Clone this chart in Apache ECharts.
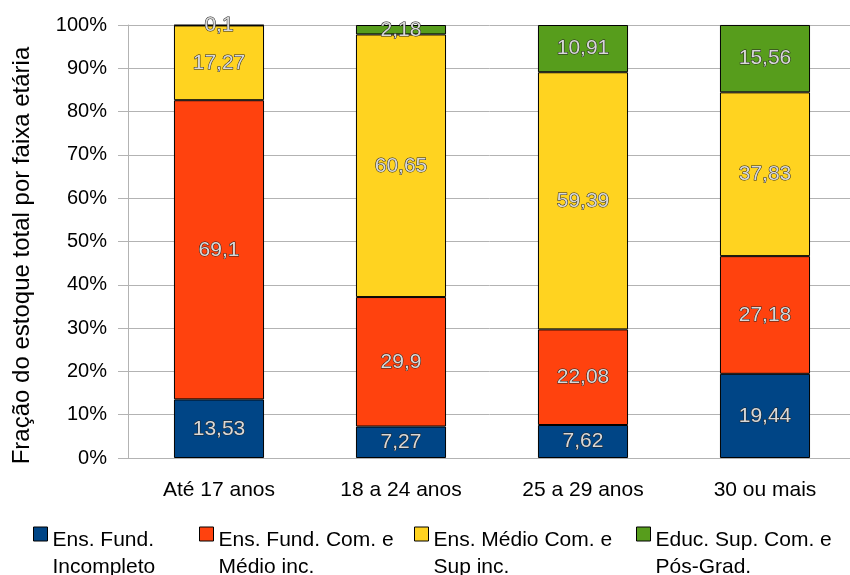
<!DOCTYPE html>
<html>
<head>
<meta charset="utf-8">
<script src="https://cdn.jsdelivr.net/npm/echarts@6/dist/echarts.min.js"></script>
<style>
  html, body { margin: 0; padding: 0; background: #fff; }
  #chart { width: 850px; height: 575px; }
</style>
</head>
<body>
<div id="chart"></div>
<script>
var categories = ['Até 17 anos', '18 a 24 anos', '25 a 29 anos', '30 ou mais']
var seriesNames = ['Ens. Fund.\nIncompleto', 'Ens. Fund. Com. e\nMédio inc.', 'Ens. Médio Com. e\nSup inc.', 'Educ. Sup. Com. e\nPós-Grad.']
var fundInc = [13.53, 7.27, 7.62, 19.44]
var fundComMedInc = [69.1, 29.9, 22.08, 27.18]
var medComSupInc = [17.27, 60.65, 59.39, 37.83]
var supComPos = [0.1, 2.18, 10.91, 15.56]
var colors = ['#004586', '#ff420e', '#ffd320', '#579d1c']
var legendLeft = [33, 199, 414, 636]

var chart = echarts.init(document.getElementById('chart'))
var allData = [fundInc, fundComMedInc, medComSupInc, supComPos]

var series = allData.map(function (d, i) {
  return {
    name: seriesNames[i],
    type: 'bar',
    stack: 'total',
    data: d,
    barWidth: '49.5%',
    itemStyle: {
      color: colors[i],
      borderColor: '#000',
      borderWidth: 1
    },
    label: {
      show: true,
      position: 'inside',
      fontSize: 21,
      color: '#d8d8d8',
      textBorderColor: '#222',
      textBorderWidth: 1,
      formatter: function (p) {
        return String(p.value).replace('.', ',')
      }
    }
  }
})

// one legend per item so each sits where the original puts it
var legends = seriesNames.map(function (n, i) {
  return {
    top: 502,
    left: legendLeft[i],
    padding: 0,
    itemWidth: 14,
    itemHeight: 14,
    icon: 'rect',
    itemStyle: { borderColor: '#000', borderWidth: 1 },
    data: [n],
    formatter: function (name) {
      var lines = name.split('\n')
      return '{b| }\n{t|' + lines[0] + '}\n{t|' + lines[1] + '}'
    },
    textStyle: {
      rich: {
        b: { fontSize: 10, lineHeight: 39 },
        t: { fontSize: 21, color: '#000', lineHeight: 27 }
      }
    }
  }
})

chart.setOption({
  animation: false,
  backgroundColor: '#fff',
  textStyle: { fontFamily: 'Liberation Sans' },
  grid: {
    left: 128,
    top: 25,
    width: 728,
    bottom: 117,
    outerBoundsMode: 'none'
  },
  legend: legends,
  xAxis: {
    type: 'category',
    data: categories,
    axisLine: { lineStyle: { color: '#b3b3b3' } },
    axisTick: { length: 9, lineStyle: { color: '#b3b3b3' } },
    axisLabel: { fontSize: 21, color: '#000', margin: 22 }
  },
  yAxis: {
    type: 'value',
    min: 0,
    max: 100,
    interval: 10,
    name: 'Fração do estoque total por faixa etária',
    nameLocation: 'middle',
    nameGap: 94,
    nameTextStyle: { fontSize: 24, color: '#000', padding: [0, 28, 0, 0] },
    axisLine: { show: true, lineStyle: { color: '#b3b3b3' } },
    axisTick: { show: true, length: 10, lineStyle: { color: '#b3b3b3' } },
    axisLabel: { fontSize: 20, color: '#000', margin: 21, formatter: '{value}%' },
    splitLine: { lineStyle: { color: '#b3b3b3' } }
  },
  series: series
})
</script>
</body>
</html>
